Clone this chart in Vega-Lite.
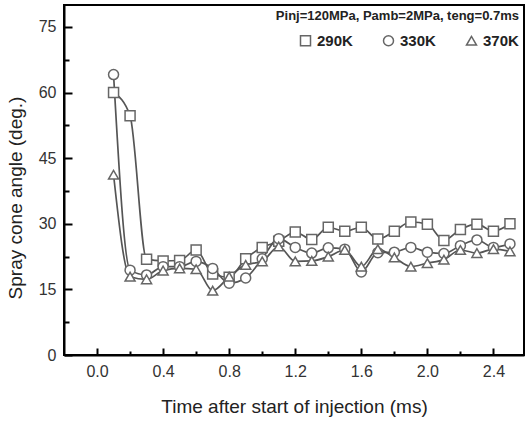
{
  "$schema": "https://vega.github.io/schema/vega-lite/v6.json",
  "width": 460,
  "height": 350,
  "autosize": "none",
  "padding": {"left": 64, "top": 5, "right": 2, "bottom": 66},
  "background": "white",
  "config": {
    "view": {"stroke": "black", "strokeWidth": 2},
    "font": "Liberation Sans",
    "axis": {
      "labelFont": "Liberation Sans",
      "titleFont": "Liberation Sans",
      "labelFontSize": 16,
      "labelColor": "#333",
      "titleFontSize": 19,
      "titleFontWeight": "normal",
      "titleColor": "#222",
      "domainColor": "black",
      "domainWidth": 2,
      "tickColor": "black",
      "tickWidth": 2,
      "grid": false
    }
  },
  "data": {
    "values": [
      {"t": 0.1, "angle": 60.0, "T": "290K"},
      {"t": 0.2, "angle": 54.7, "T": "290K"},
      {"t": 0.3, "angle": 21.9, "T": "290K"},
      {"t": 0.4, "angle": 21.5, "T": "290K"},
      {"t": 0.5, "angle": 21.6, "T": "290K"},
      {"t": 0.6, "angle": 24.0, "T": "290K"},
      {"t": 0.7, "angle": 18.5, "T": "290K"},
      {"t": 0.8, "angle": 17.8, "T": "290K"},
      {"t": 0.9, "angle": 22.0, "T": "290K"},
      {"t": 1.0, "angle": 24.6, "T": "290K"},
      {"t": 1.1, "angle": 26.0, "T": "290K"},
      {"t": 1.2, "angle": 28.1, "T": "290K"},
      {"t": 1.3, "angle": 26.4, "T": "290K"},
      {"t": 1.4, "angle": 29.2, "T": "290K"},
      {"t": 1.5, "angle": 28.3, "T": "290K"},
      {"t": 1.6, "angle": 29.2, "T": "290K"},
      {"t": 1.7, "angle": 26.5, "T": "290K"},
      {"t": 1.8, "angle": 28.3, "T": "290K"},
      {"t": 1.9, "angle": 30.4, "T": "290K"},
      {"t": 2.0, "angle": 29.9, "T": "290K"},
      {"t": 2.1, "angle": 26.2, "T": "290K"},
      {"t": 2.2, "angle": 28.7, "T": "290K"},
      {"t": 2.3, "angle": 29.9, "T": "290K"},
      {"t": 2.4, "angle": 28.3, "T": "290K"},
      {"t": 2.5, "angle": 30.0, "T": "290K"},
      {"t": 0.1, "angle": 64.1, "T": "330K"},
      {"t": 0.2, "angle": 19.4, "T": "330K"},
      {"t": 0.3, "angle": 18.3, "T": "330K"},
      {"t": 0.4, "angle": 20.2, "T": "330K"},
      {"t": 0.5, "angle": 20.2, "T": "330K"},
      {"t": 0.6, "angle": 21.4, "T": "330K"},
      {"t": 0.7, "angle": 19.8, "T": "330K"},
      {"t": 0.8, "angle": 16.4, "T": "330K"},
      {"t": 0.9, "angle": 17.6, "T": "330K"},
      {"t": 1.0, "angle": 22.0, "T": "330K"},
      {"t": 1.1, "angle": 26.6, "T": "330K"},
      {"t": 1.2, "angle": 24.6, "T": "330K"},
      {"t": 1.3, "angle": 23.3, "T": "330K"},
      {"t": 1.4, "angle": 24.5, "T": "330K"},
      {"t": 1.5, "angle": 24.2, "T": "330K"},
      {"t": 1.6, "angle": 19.0, "T": "330K"},
      {"t": 1.7, "angle": 23.4, "T": "330K"},
      {"t": 1.8, "angle": 23.5, "T": "330K"},
      {"t": 1.9, "angle": 24.6, "T": "330K"},
      {"t": 2.0, "angle": 23.5, "T": "330K"},
      {"t": 2.1, "angle": 23.2, "T": "330K"},
      {"t": 2.2, "angle": 25.0, "T": "330K"},
      {"t": 2.3, "angle": 26.3, "T": "330K"},
      {"t": 2.4, "angle": 24.6, "T": "330K"},
      {"t": 2.5, "angle": 25.4, "T": "330K"},
      {"t": 0.1, "angle": 41.2, "T": "370K"},
      {"t": 0.2, "angle": 17.9, "T": "370K"},
      {"t": 0.3, "angle": 17.3, "T": "370K"},
      {"t": 0.4, "angle": 19.3, "T": "370K"},
      {"t": 0.5, "angle": 19.8, "T": "370K"},
      {"t": 0.6, "angle": 19.6, "T": "370K"},
      {"t": 0.7, "angle": 14.7, "T": "370K"},
      {"t": 0.8, "angle": 17.9, "T": "370K"},
      {"t": 0.9, "angle": 20.6, "T": "370K"},
      {"t": 1.0, "angle": 21.4, "T": "370K"},
      {"t": 1.1, "angle": 24.8, "T": "370K"},
      {"t": 1.2, "angle": 21.4, "T": "370K"},
      {"t": 1.3, "angle": 21.5, "T": "370K"},
      {"t": 1.4, "angle": 22.5, "T": "370K"},
      {"t": 1.5, "angle": 24.0, "T": "370K"},
      {"t": 1.6, "angle": 20.2, "T": "370K"},
      {"t": 1.7, "angle": 24.2, "T": "370K"},
      {"t": 1.8, "angle": 22.3, "T": "370K"},
      {"t": 1.9, "angle": 20.2, "T": "370K"},
      {"t": 2.0, "angle": 21.0, "T": "370K"},
      {"t": 2.1, "angle": 21.8, "T": "370K"},
      {"t": 2.2, "angle": 24.0, "T": "370K"},
      {"t": 2.3, "angle": 23.3, "T": "370K"},
      {"t": 2.4, "angle": 24.2, "T": "370K"},
      {"t": 2.5, "angle": 23.7, "T": "370K"}
    ]
  },
  "encoding": {
    "x": {
      "field": "t",
      "type": "quantitative",
      "scale": {"domain": [-0.2, 2.585], "nice": false, "zero": false},
      "axis": {
        "title": "Time after start of injection (ms)",
        "values": [0, 0.2, 0.4, 0.6, 0.8, 1.0, 1.2, 1.4, 1.6, 1.8, 2.0, 2.2, 2.4],
        "labelExpr": "round(datum.value * 10) % 4 == 0 ? format(datum.value, '.1f') : ''",
        "tickSize": {"condition": {"test": "round(datum.value * 10) % 4 == 0", "value": -7}, "value": -4},
        "labelPadding": 15,
        "titleY": 57,
        "titleBaseline": "alphabetic"
      }
    },
    "y": {
      "field": "angle",
      "type": "quantitative",
      "scale": {"domain": [0, 80], "nice": false},
      "axis": {
        "title": "Spray cone angle (deg.)",
        "values": [0, 7.5, 15, 22.5, 30, 37.5, 45, 52.5, 60, 67.5, 75],
        "labelExpr": "datum.value % 15 == 0 ? format(datum.value, 'd') : ''",
        "tickSize": {"condition": {"test": "datum.value % 15 == 0", "value": -8}, "value": -5},
        "labelPadding": 16,
        "titleX": -43,
        "titleY": 192.5,
        "titleAngle": -90,
        "titleAlign": "center",
        "titleBaseline": "alphabetic"
      }
    }
  },
  "layer": [
    {
      "mark": {"type": "line", "interpolate": "monotone", "strokeWidth": 1.7, "color": "#555"},
      "encoding": {"detail": {"field": "T"}}
    },
    {
      "mark": {"type": "point", "filled": true, "color": "white", "stroke": "#666", "strokeWidth": 1.5, "size": 100, "opacity": 1},
      "encoding": {
        "shape": {
          "field": "T",
          "type": "nominal",
          "scale": {"domain": ["290K", "330K", "370K"], "range": ["square", "circle", "triangle-up"]},
          "legend": {
            "orient": "top-right",
            "offset": 5,
            "direction": "horizontal",
            "title": "Pinj=120MPa, Pamb=2MPa, teng=0.7ms",
            "titleAnchor": "end",
            "titleLimit": 500,
            "titleFont": "Liberation Sans",
            "titleFontSize": 13,
            "titleFontWeight": "bold",
            "titleColor": "#222",
            "titlePadding": 10,
            "labelFont": "Liberation Sans",
            "labelFontSize": 15,
            "labelFontWeight": "bold",
            "labelColor": "#222",
            "columnPadding": 27
          }
        }
      }
    }
  ]
}
